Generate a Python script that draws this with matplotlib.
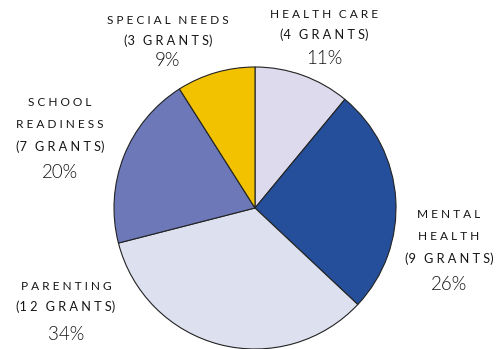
import matplotlib
matplotlib.use('Agg')
import matplotlib.pyplot as plt

# Grant share by program area
categories = ["Health care", "Mental health", "Parenting", "School readiness", "Special needs"]
grants = [4, 9, 12, 7, 3]
percents = [11, 26, 34, 20, 9]
colors = ["#dcdaec", "#264f9b", "#dce0ef", "#6c78b8", "#f2c200"]

# Label text lines for each slice
label_lines = [["HEALTH CARE"], ["MENTAL", "HEALTH"], ["PARENTING"],
               ["SCHOOL", "READINESS"], ["SPECIAL NEEDS"]]
# block centre x and the y of each row (pixels from top)
label_x = [324, 449, 66, 60, 168]
label_rows = [[14, 35, 58], [215, 237, 259, 285], [286, 307, 334],
              [103, 125, 147, 173], [20, 41, 61]]

W, H = 496, 349
plt.rcParams['font.family'] = ['Lato', 'DejaVu Sans']


def spaced(s):
    # letter-spaced caps
    return "\u2002\u2009".join("\u2009\u2009".join(w) for w in s.split(" "))


fig = plt.figure(figsize=(W / 100, H / 100), dpi=100)
ax = fig.add_axes([0, 0, 1, 1])

ax.pie(percents, colors=colors, startangle=90, counterclock=False,
       center=(255, H - 208), radius=141,
       wedgeprops=dict(edgecolor="#222222", linewidth=0.8))

ax.set_xlim(0, W)
ax.set_ylim(0, H)
ax.set_aspect('equal')
ax.axis('off')

for lines, n, p, x, rows in zip(label_lines, grants, percents, label_x, label_rows):
    for line, y in zip(lines, rows):
        ax.text(x, H - y, spaced(line), ha='center', va='center',
                fontsize=8.6, color="#151515")
    ax.text(x, H - rows[-2], "(" + spaced("%d GRANTS" % n) + ")", ha='center',
            va='center', fontsize=9.2, color="#151515")
    ax.text(x, H - rows[-1], "%d%%" % p, ha='center', va='center',
            fontsize=13.5, fontweight=300, color="#151515")

fig.savefig("out.png", dpi=100)
